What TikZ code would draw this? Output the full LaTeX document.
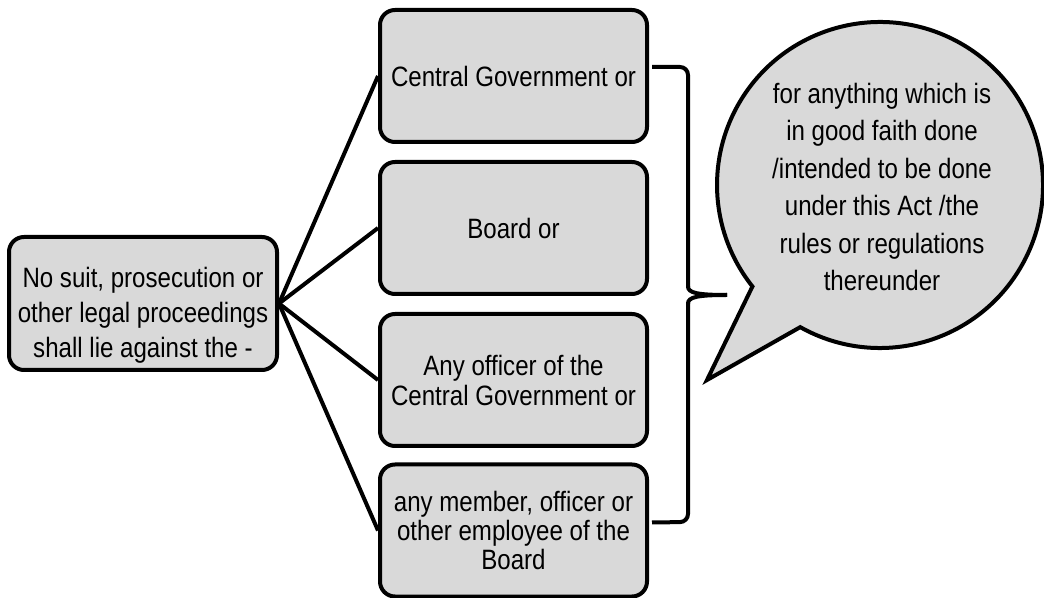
\documentclass[tikz,border=0pt]{standalone}
\usepackage{fontspec}
\setmainfont{Liberation Sans}[FakeStretch=0.86]
\usetikzlibrary{calc}
\definecolor{boxgray}{HTML}{D9D9D9}
\tikzset{
  x=1pt,y=1pt,
  box/.style={draw=black, line width=4pt, fill=boxgray, rounded corners=15pt,
    minimum width=267pt, minimum height=132pt, align=center, inner sep=4pt,
    font=\fontsize{28}{30}\selectfont},
  txt/.style={align=center, inner sep=0pt},
  conn/.style={draw=black, line width=4pt},
  bubble/.style={draw=black, line width=4pt, fill=boxgray, line join=miter},
}
\begin{document}
\begin{tikzpicture}
\useasboundingbox (0,0) rectangle (1044,597);
% left box
\node[box, minimum width=268pt, minimum height=133pt] (lb) at (143,293.5) {};
\node[txt, font=\fontsize{28}{35}\selectfont] (lbt) at ($(lb.center)+(0,-12)$)
  {No suit, prosecution or\\other legal proceedings\\shall lie against the -};
% right boxes
\node[box] (b1) at (513.5,521) {Central Government or};
\node[box] (b2) at (513.5,369) {Board or};
\node[box] (b3) at (513.5,217) {Any officer of the\\Central Government or};
\node[box, font=\fontsize{28}{29}\selectfont] (b4) at (513.5,66.5) {any member, officer or\\other employee of the\\Board};
% connectors
\draw[conn] (lb.east) -- (b1.west);
\draw[conn] (lb.east) -- (b2.west);
\draw[conn] (lb.east) -- (b3.west);
\draw[conn] (lb.east) -- (b4.west);
% brace
\coordinate (btop) at ($(b1.east)+(3,9)$);
\coordinate (bbot) at ($(b4.east)+(3,8)$);
\coordinate (btip) at (727,302);
\draw[conn, rounded corners=8pt] (btop) -- (688,530) -- (688,310);
\draw[conn] (688,310.5) .. controls (688,304) and (698,302) .. (btip);
\draw[conn] (btip) .. controls (698,302) and (688,300) .. (688,293.5);
\draw[conn, rounded corners=8pt] (688,294) -- (688,75) -- (bbot);
% speech bubble
\coordinate (bc) at (880,412);
\coordinate (tail) at (707,217);
\draw[bubble] ($(bc)+(240.7:163)$) arc[start angle=240.7, end angle=578.5, radius=163] -- (tail) -- cycle;
\node[txt, font=\fontsize{28}{37.5}\selectfont] (bt) at (882,410)
  {for anything which is\\in good faith done\\/intended to be done\\under this Act /the\\rules or regulations\\thereunder};
\end{tikzpicture}
\end{document}
